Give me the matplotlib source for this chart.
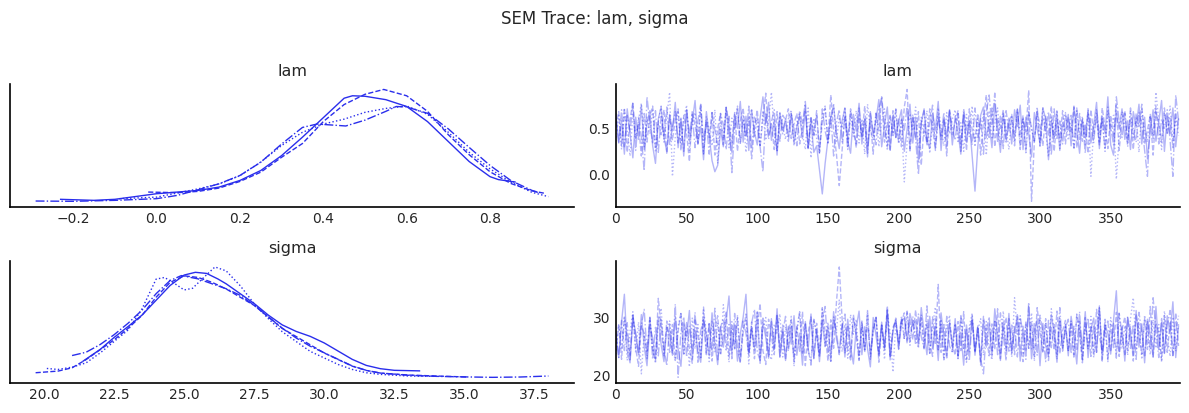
import matplotlib
matplotlib.use("Agg")
import matplotlib.pyplot as plt
import numpy as np

# chain colour and line styles (one per chain)
color = "#2a2eec"
styles = ["-", "--", ":", "-."]

N_DRAWS = 400
draws = np.arange(0, N_DRAWS, 2)  # every second draw

# ---- KDE curves ----
lam_kde_x = [
    [-0.23, -0.15, -0.1, 0.0, 0.05, 0.1, 0.15, 0.2, 0.25, 0.3, 0.35, 0.4, 0.45, 0.47, 0.5, 0.55, 0.6, 0.65, 0.7, 0.75, 0.8, 0.82, 0.86],
    [-0.02, 0.05, 0.1, 0.15, 0.2, 0.25, 0.3, 0.35, 0.4, 0.45, 0.5, 0.545, 0.6, 0.65, 0.7, 0.75, 0.8, 0.85, 0.9, 0.93],
    [-0.09, 0.0, 0.1, 0.15, 0.2, 0.25, 0.3, 0.35, 0.4, 0.45, 0.5, 0.55, 0.6, 0.65, 0.7, 0.75, 0.8, 0.85, 0.9, 0.94],
    [-0.29, -0.2, -0.1, 0.0, 0.05, 0.1, 0.15, 0.2, 0.25, 0.3, 0.35, 0.385, 0.42, 0.454, 0.5, 0.55, 0.575, 0.6, 0.65, 0.7, 0.75, 0.8, 0.85, 0.9, 0.92],
]
lam_kde_y = [
    [0.075, 0.054, 0.075, 0.19, 0.224, 0.258, 0.326, 0.462, 0.666, 0.972, 1.35, 1.75, 2.15, 2.2, 2.19, 2.12, 1.98, 1.67, 1.26, 0.85, 0.54, 0.48, 0.43],
    [0.224, 0.211, 0.238, 0.306, 0.442, 0.632, 0.938, 1.22, 1.67, 2.02, 2.23, 2.33, 2.2, 1.88, 1.40, 0.99, 0.64, 0.40, 0.25, 0.2],
    [0.088, 0.12, 0.29, 0.39, 0.56, 0.84, 1.18, 1.45, 1.62, 1.72, 1.86, 1.94, 1.99, 1.82, 1.45, 1.04, 0.70, 0.43, 0.22, 0.13],
    [0.04, 0.034, 0.054, 0.088, 0.156, 0.272, 0.394, 0.564, 0.836, 1.21, 1.55, 1.62, 1.60, 1.58, 1.7, 1.88, 1.98, 1.97, 1.84, 1.52, 1.14, 0.77, 0.46, 0.26, 0.2],
]

sigma_kde_x = [
    [21.4, 22.0, 22.5, 23.0, 23.5, 24.0, 24.5, 25.0, 25.4, 25.8, 26.2, 26.5, 27.0, 27.5, 28.0, 28.5, 29.0, 29.5, 30.0, 30.5, 31.0, 31.5, 32.0, 32.5, 33.4],
    [19.7, 20.5, 21.0, 21.5, 22.0, 22.5, 23.0, 23.5, 24.0, 24.5, 25.0, 25.5, 26.0, 26.5, 27.0, 27.5, 28.0, 28.5, 29.0, 29.5, 30.0, 30.5, 31.0, 31.5, 32.0, 33.0, 34.0, 35.1],
    [20.1, 20.5, 21.0, 21.5, 22.0, 22.5, 23.0, 23.5, 24.0, 24.3, 24.6, 25.0, 25.3, 25.7, 26.1, 26.5, 27.0, 27.5, 28.0, 28.5, 29.0, 29.5, 30.0, 30.5, 31.0, 31.5, 32.0, 33.0, 34.0],
    [21.0, 21.5, 22.0, 22.5, 23.0, 23.5, 24.0, 24.5, 24.9, 25.5, 26.0, 26.5, 27.0, 27.5, 28.0, 28.5, 29.0, 29.5, 30.0, 30.5, 31.0, 31.5, 32.0, 33.0, 34.0, 35.0, 36.0, 37.0, 38.0],
]
sigma_kde_y = [
    [0.031, 0.052, 0.074, 0.094, 0.115, 0.142, 0.169, 0.188, 0.193, 0.191, 0.181, 0.172, 0.154, 0.136, 0.115, 0.097, 0.085, 0.076, 0.064, 0.049, 0.034, 0.023, 0.017, 0.014, 0.013],
    [0.0096, 0.0126, 0.0186, 0.0336, 0.0516, 0.0696, 0.0906, 0.1146, 0.1476, 0.1746, 0.1866, 0.1836, 0.1746, 0.1626, 0.1476, 0.1326, 0.1116, 0.0906, 0.0756, 0.0606, 0.0456, 0.0336, 0.0216, 0.0138, 0.009, 0.0054, 0.0036, 0.0018],
    [0.0174, 0.0156, 0.0198, 0.0276, 0.0456, 0.0666, 0.0876, 0.1266, 0.1806, 0.1836, 0.1746, 0.1608, 0.1638, 0.1836, 0.2028, 0.1956, 0.1686, 0.1356, 0.1086, 0.0846, 0.0666, 0.0486, 0.0366, 0.0246, 0.0156, 0.0096, 0.0066, 0.0036, 0.003],
    [0.041, 0.047, 0.061, 0.079, 0.10, 0.124, 0.154, 0.178, 0.187, 0.181, 0.172, 0.163, 0.151, 0.133, 0.112, 0.091, 0.073, 0.058, 0.046, 0.034, 0.022, 0.014, 0.009, 0.005, 0.003, 0.002, 0.0012, 0.0018, 0.0036],
]

# ---- trace values (every second draw) ----
lam_chain0 = [
    .66, .34, .58, .22, .71, .45, .18, .62, .38, .75, .27, .55, .69, .31, .12, .60, .73, .40, .25, .64,
    .47, .78, .29, .61, .20, .70, .36, .57, .80, .33, .52, .16, .68, .42, .15, .03, .10, .49, .30, .72,
    .44, .24, .65, .50, .79, .35, .63, .26, .70, .46, .32, .61, .84, .55, .78, .37, .59, .21, .67, .48,
    .60, .41, .66, .34, .52, .63, .39, .70, .29, .57, .24, .31, .05, -.21, .12, .38, .62, .74, .45, .28,
    .58, .72, .36, .23, .65, .47, .77, .33, .60, .19, .68, .42, .59, .81, .30, .53, .73, .27, .64, .40,
    .57, .70, .25, .49, .76, .34, .62, .14, .55, .71, .37, .28, .66, .48, .79, .26, .60, .41, .69, .32,
    .63, .46, .22, .67, .35, .58, .20, -.18, .30, .64, .73, .40, .56, .29, .77, .50, .24, .66, .38, .61,
    .33, .70, .52, .75, .27, .62, .44, .19, .67, .49, .35, .72, .60, .16, .58, .39, .68, .26, .55, .47,
    .65, .31, .74, .48, .23, .59, .40, .70, .34, .54, .78, .28, .63, .45, .84, .32, .21, .66, .50, .71,
    .38, .58, .27, .68, .51, .76, .33, .62, .17, .47, .70, .36, .57, .80, .25, .63, .44, .72, .30, .60,
]
lam_chain1 = [
    .52, .68, .31, .72, .24, .60, .78, .38, .55, .20, .66, .35, .63, .74, .28, .57, .43, .70, .22, .65,
    .37, .59, .71, .26, .64, .45, .14, .69, .53, .33, .76, .23, .58, .40, .67, .21, .50, .66, .32, .73,
    .55, .34, .67, .25, .58, .72, .41, .62, .17, .50, .70, .30, .61, .88, .42, .56, .27, .68, .36, .64,
    .59, .71, .39, .55, .66, .33, .50, .75, .28, .63, .43, .69, .24, .57, .72, .37, .86, .48, .22, -.12,
    .26, .64, .38, .71, .52, .29, .62, .41, .74, .31, .58, .22, .68, .47, .84, .35, .56, .25, .69, .40,
    .60, .30, .73, .92, .24, .63, .39, .68, .10, .54, .34, .71, .49, .28, .65, .38, .59, .20, .70, .43,
    .57, .69, .33, .64, .26, .71, .48, .36, .66, .21, .58, .86, .40, .72, .30, .61, .50, .70, .35, .56,
    .65, .37, .71, .27, .60, .46, .91, -.29, .35, .68, .53, .31, .63, .42, .74, .25, .59, .39, .69, .33,
    .62, .45, .73, .29, .66, .36, .55, .23, .70, .44, .60, .32, .72, .51, .28, .64, .40, .75, .26, .58,
    .69, .38, .60, .27, .66, .52, .76, .33, .48, .64, .21, .68, .55, .35, .72, .43, .61, .29, .67, .50,
]
lam_chain2 = [
    .36, .64, .27, .70, .49, .20, .66, .38, .59, .77, .30, .62, .44, .71, .24, .57, .74, .35, .63, .89,
    -.02, .41, .69, .32, .60, .75, .26, .55, .67, .34, .72, .22, .63, .47, .31, .70, .12, .58, .39, .73,
    .29, .61, .50, .74, .33, .65, .24, .57, .71, .40, .63, .30, .69, .37, .59, .89, .46, .25, .66, .52,
    .38, .60, .70, .31, .56, .67, .43, .27, .72, .18, .61, .39, .23, .65, .74, .33, .54, .77, .36, .62,
    .50, .73, .29, .64, .41, .69, .34, .60, .22, .76, .48, .37, .67, .30, .58, .71, .26, .63, .42, .70,
    .33, .59, -.08, .35, .66, .47, .73, .28, .62, .40, .69, .23, .57, .36, .72, .52, .31, .67, .44, .60,
    .70, .34, .56, .25, .65, .41, .74, .30, .61, .48, .66, .21, .69, .38, .55, .72, .32, .63, .50, .27,
    .64, .43, .71, .30, .60, .22, .68, .49, .35, .66, .31, .73, .46, .19, .62, .40, .70, .28, .57, .67,
    .37, .56, .27, .69, .44, .63, .32, .72, -.02, .50, .67, .34, .60, .25, .73, .47, .64, -.05, .41, .68,
    .53, .33, .69, .40, .62, .24, .71, .48, .35, .65, .38, .89, .58, .27, .67, .45, .74, .36, .61, .42,
]
lam_chain3 = [
    .60, .35, .70, .30, .64, .46, .77, .26, .62, .41, .04, .84, .55, .33, .69, .24, .63, .40, .73, .31,
    .52, .68, .34, .60, .25, .71, .43, .65, .29, .58, .76, .37, .57, .22, .67, .48, .32, .66, .54, .27,
    .63, .02, .49, .72, .33, .60, .40, .74, .28, .62, .51, .30, .03, .67, .38, .57, .70, .26, .61, .44,
    .58, .36, .66, .50, .31, .69, .55, .79, .29, .61, .42, .65, .24, .71, .47, .34, .64, .20, .56, .70,
    .35, .62, .27, .68, .49, .33, .72, .41, .60, .23, .66, .47, .32, .70, .84, .53, .30, .64, .43, .71,
    .34, .60, .48, .73, .28, .65, .39, .00, .57, .69, .31, .55, .75, .26, .62, .42, .67, .30, .70, .50,
    .37, .66, .25, .71, .48, .58, .32, .72, .40, .61, .22, .67, .86, .54, .88, .35, .63, .28, .69, .47,
    .59, .31, .70, .43, .64, .26, .67, .50, .36, .73, .30, .62, .47, .68, .21, .71, .39, .58, .33, .66,
    .48, .64, .29, .72, .38, .60, .23, .67, .53, .34, .70, .44, .61, .27, .68, .51, .32, .84, .57, .40,
    .66, .30, .72, .49, .35, .67, .56, .26, -.02, .63, .42, .74, .33, .60, .50, .70, .37, -.02, .86, .58,
]

sigma_chain0 = [
    26.8, 23.1, 29.2, 34.0, 24.3, 22.2, 29.9, 27.4, 23.6, 30.5, 25.0, 21.7, 28.6, 26.5, 22.9, 30.1, 25.3, 22.4, 28.3, 27.0,
    23.5, 30.2, 24.6, 21.6, 28.9, 26.7, 31.2, 22.8, 27.8, 24.2, 22.3, 29.6, 27.1, 23.4, 30.8, 25.5, 21.9, 28.4, 24.9, 29.4,
    33.7, 23.9, 28.7, 22.5, 27.2, 30.0, 34.0, 23.7, 28.1, 24.7, 31.0, 22.1, 29.1, 26.6, 23.0, 29.8, 24.8, 31.5, 23.3, 27.5,
    22.6, 28.5, 25.4, 30.3, 23.5, 27.3, 21.8, 29.3, 24.5, 30.6, 22.9, 27.9, 22.4, 29.5, 25.1, 28.6, 23.2, 31.0, 26.3, 24.0,
    28.9, 23.2, 29.7, 24.9, 22.0, 28.2, 31.1, 23.6, 28.4, 24.6, 21.5, 30.0, 26.9, 23.4, 29.2, 24.4, 31.3, 22.7, 27.6, 29.6,
    24.5, 29.3, 29.9, 26.1, 30.7, 28.6, 29.4, 25.1, 31.7, 27.5, 23.6, 30.2, 24.7, 28.5, 22.6, 30.8, 26.6, 23.4, 29.0, 24.9,
    29.8, 23.0, 27.4, 21.8, 28.7, 24.1, 30.4, 23.5, 28.2, 22.4, 29.5, 24.9, 28.9, 23.3, 31.5, 27.1, 22.6, 29.2, 24.5, 30.7,
    23.8, 27.8, 30.1, 22.5, 28.5, 24.4, 31.9, 22.9, 27.6, 29.7, 21.7, 29.0, 25.1, 23.6, 30.5, 27.2, 22.3, 29.4, 24.7, 28.8,
    23.4, 30.2, 26.8, 22.0, 29.3, 24.6, 31.0, 23.1, 28.0, 29.9, 24.0, 31.6, 22.8, 28.7, 27.3, 23.7, 29.5, 34.6, 24.1, 28.4,
    22.5, 30.0, 27.1, 23.5, 31.2, 24.9, 28.9, 22.2, 29.7, 27.0, 23.2, 31.9, 24.5, 29.1, 23.8, 30.3, 27.2, 32.7, 23.1, 28.5,
]
sigma_chain1 = [
    24.2, 28.9, 22.8, 29.9, 26.9, 23.5, 30.6, 24.7, 21.6, 28.6, 27.3, 22.9, 30.2, 24.4, 22.5, 33.3, 28.2, 23.4, 29.4, 24.0,
    28.8, 22.6, 27.6, 30.9, 23.7, 29.3, 24.5, 22.1, 29.8, 27.0, 23.1, 31.8, 23.9, 28.9, 22.5, 27.9, 30.3, 23.5, 26.9, 31.1,
    23.3, 28.5, 24.6, 30.0, 22.4, 27.4, 30.6, 24.1, 29.2, 22.9, 28.0, 32.4, 24.3, 21.9, 29.7, 26.8, 23.6, 30.4, 24.8, 28.7,
    22.7, 27.8, 29.5, 23.3, 28.4, 24.2, 31.0, 21.7, 27.4, 30.1, 23.0, 29.0, 24.0, 31.7, 27.5, 22.5, 29.6, 24.7, 32.6, 38.7,
    29.8, 23.9, 28.7, 23.2, 30.5, 26.9, 22.6, 29.4, 24.4, 29.1, 23.7, 27.6, 30.3, 22.3, 28.6, 24.8, 32.0, 23.1, 27.9, 29.9,
    24.6, 29.2, 30.8, 25.5, 29.6, 26.2, 31.3, 25.8, 29.9, 24.8, 29.0, 23.7, 30.1, 25.3, 35.7, 24.0, 28.8, 22.8, 29.4, 25.4,
    23.5, 29.3, 24.3, 31.0, 22.7, 28.0, 29.7, 24.1, 28.5, 21.8, 30.2, 26.9, 23.4, 28.9, 24.5, 31.5, 22.9, 27.8, 30.0, 24.2,
    28.7, 23.6, 30.7, 25.0, 22.4, 29.4, 24.7, 29.0, 23.1, 31.7, 27.5, 23.9, 29.8, 22.6, 28.4, 24.4, 31.1, 23.8, 27.7, 29.5,
    24.1, 29.2, 23.0, 30.4, 27.2, 22.2, 30.0, 24.6, 28.6, 23.5, 31.4, 26.9, 24.2, 29.7, 22.8, 28.8, 24.8, 30.9, 23.3, 27.9,
    30.1, 24.3, 28.4, 22.5, 30.6, 27.1, 23.7, 29.8, 24.5, 31.9, 23.2, 28.9, 27.4, 22.7, 30.3, 24.0, 29.1, 23.4, 30.8, 25.1,
]
sigma_chain2 = [
    23.7, 28.7, 24.5, 30.3, 22.6, 27.6, 31.0, 23.9, 29.2, 20.3, 27.3, 23.3, 29.7, 24.8, 22.1, 29.0, 31.6, 23.8, 28.1, 29.4,
    24.3, 22.8, 28.5, 30.7, 23.5, 28.2, 21.5, 29.9, 24.6, 28.8, 23.1, 31.3, 27.4, 22.4, 29.5, 24.1, 29.1, 23.6, 32.2, 26.9,
    22.3, 29.3, 24.7, 30.4, 23.4, 27.7, 29.8, 22.0, 28.6, 24.4, 31.1, 22.9, 28.3, 30.0, 24.0, 22.7, 28.9, 27.3, 30.6, 23.2,
    28.4, 24.6, 30.2, 21.6, 27.4, 30.8, 23.8, 29.0, 24.2, 22.5, 29.6, 27.2, 23.4, 31.4, 24.8, 29.2, 22.2, 30.1, 27.7, 33.0,
    24.1, 28.8, 23.0, 30.5, 27.1, 29.7, 22.6, 28.4, 24.5, 31.2, 23.3, 28.2, 30.0, 23.9, 28.7, 22.8, 30.9, 27.3, 20.6, 29.0,
    25.8, 29.9, 26.3, 31.0, 25.2, 30.2, 26.6, 24.7, 30.5, 25.4, 29.4, 23.6, 28.6, 31.8, 24.4, 29.7, 23.1, 27.9, 30.4, 24.0,
    28.9, 22.9, 30.1, 24.8, 22.3, 28.5, 30.7, 24.1, 27.7, 29.8, 23.5, 29.3, 24.6, 22.7, 29.6, 27.4, 23.8, 31.1, 24.3, 28.7,
    23.2, 33.4, 27.1, 30.3, 23.6, 28.8, 24.5, 30.8, 22.5, 28.3, 29.5, 24.0, 29.1, 23.3, 31.5, 27.5, 22.8, 29.9, 24.7, 28.4,
    24.2, 29.4, 23.4, 30.6, 27.8, 22.6, 29.0, 24.8, 30.2, 23.1, 27.5, 31.7, 23.9, 28.7, 22.4, 30.0, 27.2, 23.7, 30.9, 24.6,
    28.6, 23.5, 29.8, 33.4, 24.4, 29.2, 22.8, 30.4, 27.4, 23.6, 29.6, 24.7, 28.8, 22.3, 31.1, 26.9, 23.3, 30.1, 24.2, 28.9,
]
sigma_chain3 = [
    27.6, 23.1, 29.5, 24.3, 29.1, 22.5, 30.4, 26.9, 23.7, 28.7, 31.4, 24.0, 30.0, 22.8, 28.3, 23.4, 29.7, 24.6, 21.7, 28.9,
    23.9, 32.3, 19.7, 27.5, 30.1, 23.2, 28.5, 24.7, 30.9, 22.3, 27.7, 29.6, 23.6, 29.2, 24.2, 31.6, 22.7, 28.3, 29.8, 24.4,
    28.8, 22.9, 30.7, 24.8, 22.2, 29.4, 27.3, 23.5, 29.0, 31.4, 24.1, 22.6, 29.9, 27.8, 23.3, 29.3, 24.5, 30.5, 23.0, 27.4,
    30.2, 24.2, 28.6, 22.4, 28.2, 31.0, 23.8, 28.9, 24.6, 21.8, 29.7, 27.2, 23.1, 29.1, 31.9, 24.3, 22.5, 29.5, 27.6, 23.6,
    28.4, 30.6, 24.4, 22.7, 29.8, 27.4, 23.5, 29.3, 24.0, 31.2, 22.8, 27.8, 30.0, 23.7, 28.7, 24.8, 31.5, 23.2, 28.3, 29.4,
    25.5, 30.3, 26.4, 31.1, 25.9, 29.7, 25.3, 30.6, 26.7, 24.6, 32.0, 25.8, 23.3, 29.9, 24.5, 28.8, 22.7, 30.2, 25.1, 23.9,
    29.0, 23.4, 30.5, 24.7, 28.2, 22.5, 29.6, 24.1, 28.7, 22.9, 20.3, 27.6, 30.1, 24.3, 29.3, 23.6, 30.8, 27.2, 22.6, 29.8,
    24.4, 28.4, 23.2, 30.0, 27.3, 22.8, 32.6, 24.6, 29.1, 23.5, 30.4, 27.5, 22.4, 29.5, 24.8, 28.8, 23.7, 31.7, 24.2, 28.2,
    29.7, 23.8, 28.5, 24.5, 31.0, 22.7, 27.7, 29.9, 23.3, 28.6, 24.0, 32.0, 22.5, 28.3, 29.4, 24.3, 29.0, 23.0, 30.7, 27.1,
    23.6, 30.2, 24.7, 28.8, 22.8, 30.9, 27.4, 23.4, 29.5, 24.5, 33.4, 27.9, 23.1, 30.0, 23.9, 28.7, 31.2, 23.5, 27.6, 30.3,
]

lam_chains = [lam_chain0, lam_chain1, lam_chain2, lam_chain3]
sigma_chains = [sigma_chain0, sigma_chain1, sigma_chain2, sigma_chain3]

lam_kde_ticks = [-0.2, 0.0, 0.2, 0.4, 0.6, 0.8]
sigma_kde_ticks = [20.0, 22.5, 25.0, 27.5, 30.0, 32.5, 35.0, 37.5]
trace_xticks = [0, 50, 100, 150, 200, 250, 300, 350]
lam_trace_yticks = [0.0, 0.5]
sigma_trace_yticks = [20, 30]

text_col = "0.15"
plt.rcParams["font.family"] = "DejaVu Sans"

fig = plt.figure(figsize=(11.89, 4.13), dpi=100)
fig.suptitle("SEM Trace: lam, sigma", fontsize=12, color=text_col, y=0.975)


def style_axis(ax):
    for side in ["top", "right"]:
        ax.spines[side].set_visible(False)
    for side in ["left", "bottom"]:
        ax.spines[side].set_color("black")
        ax.spines[side].set_linewidth(1.2)
    ax.tick_params(length=0, labelsize=10, colors=text_col, pad=4)


rows = [
    ("lam", lam_kde_x, lam_kde_y, lam_kde_ticks, lam_chains, lam_trace_yticks, 0.499, 0.298),
    ("sigma", sigma_kde_x, sigma_kde_y, sigma_kde_ticks, sigma_chains, sigma_trace_yticks, 0.073, 0.294),
]

for name, kx, ky, kticks, chains, ytk, bottom, height in rows:
    ax_kde = fig.add_axes([0.0084, bottom, 0.4744, height])
    for i in range(4):
        ax_kde.plot(kx[i], ky[i], color=color, linestyle=styles[i], lw=1.0)
    ax_kde.set_yticks([])
    ax_kde.set_xticks(kticks)
    ax_kde.set_title(name, fontsize=11.5, color=text_col)
    style_axis(ax_kde)

    ax_tr = fig.add_axes([0.518, bottom, 0.4744, height])
    for i in range(4):
        ax_tr.plot(draws, chains[i], color=color, linestyle=styles[i], lw=1.0, alpha=0.35)
    ax_tr.set_xlim(0, N_DRAWS - 1)
    ax_tr.set_xticks(trace_xticks)
    ax_tr.set_yticks(ytk)
    ax_tr.set_title(name, fontsize=11.5, color=text_col)
    style_axis(ax_tr)

fig.savefig("out.png", dpi=100)
